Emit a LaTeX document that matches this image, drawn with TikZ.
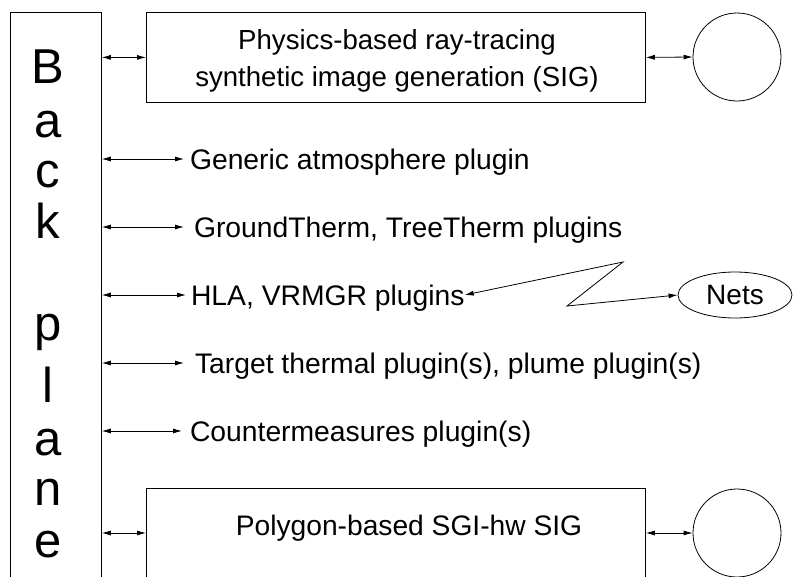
\documentclass[tikz,border=0pt]{standalone}
\usepackage{fontspec}
\setmainfont{Liberation Sans}
\usetikzlibrary{arrows.meta,shapes.geometric}
\begin{document}
\begin{tikzpicture}[x=1pt,y=-1pt,line width=0.8pt,
  dbl/.style={{Latex[length=9pt,width=5pt]}-{Latex[length=9pt,width=5pt]}},
  lbl/.style={font=\fontsize{28.3}{32}\selectfont, inner sep=0pt, outer sep=0pt,
    anchor=west, text height=20pt, text depth=0pt},
  letter/.style={font=\fontsize{49}{52}\selectfont, inner sep=0pt, anchor=base},
  boxtext/.style={font=\fontsize{27.6}{37}\selectfont, align=center, inner sep=0pt},
  ring/.style={draw, circle, minimum size=88pt, inner sep=0pt}]
\useasboundingbox (0,0) rectangle (801,576);
\clip (0,0) rectangle (801,576);
% backplane
\node[draw, anchor=north west, minimum width=91pt, minimum height=620pt, inner sep=0pt] (bp) at (10,12) {};
\node[letter] (b1) at (48,83) {B};
\node[letter] (b2) at (48,137) {a};
\node[letter] (b3) at (48,187) {c};
\node[letter] (b4) at (48,238) {k};
\node[letter] (b5) at (48,340) {p};
\node[letter] (b6) at (48,402) {l};
\node[letter] (b7) at (48,455) {a};
\node[letter] (b8) at (48,505) {n};
\node[letter] (b9) at (48,557) {e};
% top box
\node[draw, anchor=north west, minimum width=499pt, minimum height=90pt, inner sep=0pt] (sig) at (146,12) {};
\node[boxtext] (sigt) at (397,61) {Physics-based ray-tracing\\synthetic image generation (SIG)};
\node[ring] (c1) at (737,57) {};
% bottom box
\node[draw, anchor=north west, minimum width=499pt, minimum height=150pt, inner sep=0pt] (poly) at (146,488) {};
\node[font=\fontsize{28.2}{32}\selectfont, inner sep=0pt, anchor=base] (polyt) at (409,535) {Polygon-based SGI-hw SIG};
\node[ring] (c2) at (737,533) {};
% plugins
\node[lbl] (gen) at (184,159) {\hspace{6pt}Generic atmosphere plugin};
\node[lbl] (gt) at (184,227) {\hspace{10pt}GroundTherm, TreeTherm plugins};
\node[lbl] (hla) at (186,295) {\hspace{5pt}HLA, VRMGR plugins\hspace{5pt}};
\node[lbl] (tgt) at (184,363) {\hspace{11pt}Target thermal plugin(s), plume plugin(s)};
\node[lbl] (cm) at (182,431) {\hspace{8pt}Countermeasures plugin(s)};
\node[draw, ellipse, minimum width=114pt, minimum height=46pt, inner sep=0pt,
  font=\fontsize{28}{32}\selectfont] (nets) at (735,295) {Nets};
\coordinate (z1) at (623,262);
\coordinate (z2) at (567,306);
% connectors
\draw[dbl] (bp.east |- sig.west) -- (sig.west);
\draw[dbl] (sig.east) -- (c1.west);
\draw[dbl] (bp.east |- c2) -- (poly.west |- c2);
\draw[dbl] (poly.east |- c2) -- (c2.west);
\draw[dbl] (bp.east |- gen.west) -- (gen.west);
\draw[dbl] (bp.east |- gt.west) -- (gt.west);
\draw[dbl] (bp.east |- hla.west) -- (hla.west);
\draw[dbl] (bp.east |- tgt.west) -- (tgt.west);
\draw[dbl] (bp.east |- cm.west) -- (cm.west);
\draw[dbl] (hla.east) -- (z1) -- (z2) -- (nets.west);
\end{tikzpicture}
\end{document}
